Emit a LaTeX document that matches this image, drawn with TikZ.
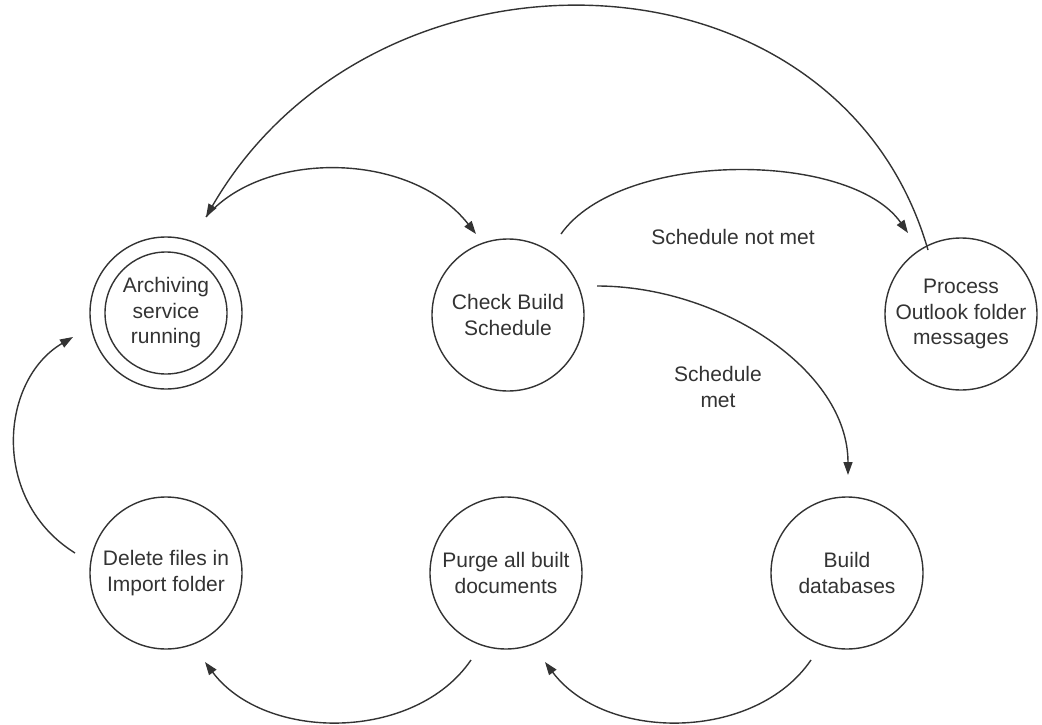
\documentclass[tikz,border=0pt]{standalone}
\usepackage{fontspec}
\setmainfont{Liberation Sans}
\usetikzlibrary{arrows.meta}
\definecolor{ink}{HTML}{333333}
\begin{document}
\begin{tikzpicture}[x=1pt,y=-1pt,
  state/.style={circle, draw=ink, line width=1.4pt, minimum size=152pt, inner sep=0pt,
    align=center, font=\fontsize{21}{25.5}\selectfont, text=ink},
  lbl/.style={align=center, font=\fontsize{21}{25.5}\selectfont, text=ink},
  conn/.style={draw=ink, line width=1.4pt},
  arr/.style={conn, -{Triangle[length=13pt,width=9pt]}}]
\useasboundingbox (0,0) rectangle (1042,725);
\node[state] (arch) at (166,313) {Archiving\\service\\running};
\node[circle, draw=ink, line width=1.4pt, minimum size=122pt] (archin) at (166,313) {};
\node[state] (check) at (508,315) {Check Build\\Schedule};
\node[state] (proc) at (961,314) {Process\\Outlook folder\\messages};
\node[state] (del) at (166,573) {Delete files in\\Import folder};
\node[state] (purge) at (506,573) {Purge all built\\documents};
\node[state] (build) at (847,573) {Build\\databases};
\node[lbl] (lnot) at (733,237) {Schedule not met};
\node[lbl] (lmet) at (718,387) {Schedule\\met};
% endpoints
\path (proc) ++(-33,-64) coordinate (pTop);
\path (arch) ++(40,-96) coordinate (aTop);
\path (check) ++(-32,-81) coordinate (cIn);
\path (check) ++(53,-81) coordinate (cOut);
\path (proc) ++(-53,-81) coordinate (pIn);
\path (check) ++(89,-29) coordinate (cOut2);
\path (build) ++(1,-98) coordinate (bIn);
\path (build) ++(-36,87) coordinate (bOut);
\path (purge) ++(39,89) coordinate (puIn);
\path (purge) ++(-35,87) coordinate (puOut);
\path (del) ++(39,89) coordinate (dIn);
\path (del) ++(-91,-20) coordinate (dOut);
\path (arch) ++(-93,24) coordinate (aIn);
% connectors
\draw[arr] (pTop) .. controls (838,-62) and (375,-75) .. (aTop);
\draw[arr] (aTop) .. controls (262,150) and (410,150) .. (cIn);
\draw[arr] (cOut) .. controls (620,150) and (850,150) .. (pIn);
\draw[arr] (cOut2) .. controls (720,286) and (848,370) .. (bIn);
\draw[arr] (bOut) .. controls (755,742) and (605,742) .. (puIn);
\draw[arr] (puOut) .. controls (415,742) and (265,742) .. (dIn);
\draw[arr] (dOut) .. controls (-10,500) and (0,380) .. (aIn);
\end{tikzpicture}
\end{document}
